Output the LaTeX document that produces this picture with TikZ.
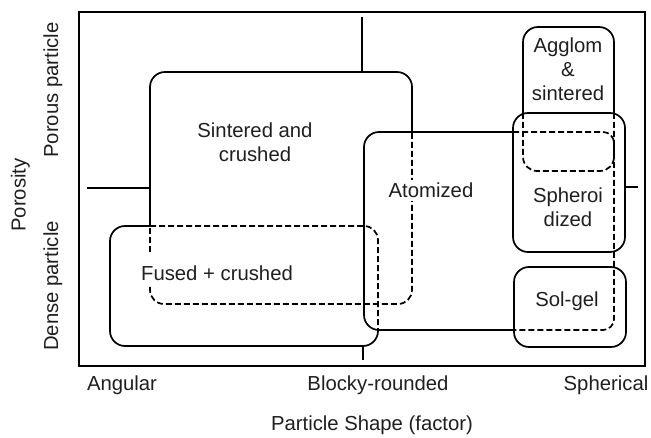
\documentclass[tikz,border=0pt]{standalone}
\usepackage{fontspec}
\setmainfont{Liberation Sans}
\begin{document}
\begin{tikzpicture}[x=1pt,y=-1pt,
  frame/.style={line width=2.4pt},
  solidedge/.style={line width=1.7pt, rounded corners=15pt},
  dashedge/.style={line width=1.7pt, rounded corners=14pt, dash pattern=on 6pt off 3pt},
  axisline/.style={line width=1.4pt},
  lbl/.style={font=\fontsize{20.3}{24}\selectfont, text=black!88, inner sep=0pt, align=center},
]
\useasboundingbox (0,0) rectangle (651,438);
% frame
\draw[frame] (79,12) rectangle (645,366);
% named coordinates
\coordinate (vtop) at (362,17);
\coordinate (vbot) at (363,360);
\coordinate (hl) at (87,188);
\coordinate (hr) at (638,187);
% cross lines
\draw[axisline] (vtop) -- (362,72);
\draw[axisline] (363,346) -- (vbot);
\draw[axisline] (hl) -- (150,188);
\draw[axisline] (625,187) -- (hr);
% Sintered and crushed box
\draw[solidedge] (150,226) -- (150,72) -- (412,72) -- (412,133);
\draw[dashedge] (412,133) -- (412,304) -- (150,304) -- (150,287);
\draw[dashedge] (150,252) -- (150,226);
% Fused + crushed box
\draw[solidedge] (150,226) -- (110,226) -- (110,346) -- (378,346) -- (378,330);
\draw[dashedge] (150,226) -- (378,226) -- (378,330);
% Atomized box
\draw[solidedge] (513,132) -- (364,132) -- (364,330) -- (514,330);
\draw[dashedge, rounded corners=11pt] (513,132) -- (614,132) -- (614,330) -- (514,330);
% Agglom & sintered box
\draw[solidedge] (523,113) -- (523,27) -- (614,27) -- (614,113);
\draw[dashedge] (614,113) -- (614,171) -- (523,171) -- (523,113);
% Spheroidized box
\draw[solidedge] (513,113) rectangle (625,252);
% Sol-gel box
\draw[solidedge] (514,267) rectangle (626,347);
% labels in boxes
\node[lbl] (sc) at (255,142) {Sintered and\\crushed};
\node[lbl, anchor=base, fill=white, inner sep=3pt] (at) at (431,198) {Atomized};
\node[lbl, anchor=base] (fc) at (217,281) {Fused + crushed};
\node[lbl] (ag) at (568,69) {Agglom\\\&\\sintered};
\node[lbl] (sp) at (568,207) {Spheroi\\dized};
\node[lbl, anchor=base] (sg) at (567,307) {Sol-gel};
% axis labels
\node[lbl, anchor=base] (ang) at (122,391) {Angular};
\node[lbl, anchor=base] (blk) at (378,391) {Blocky-rounded};
\node[lbl, anchor=base] (sph) at (606,391) {Spherical};
\node[lbl, anchor=base] (psf) at (372,430) {Particle Shape (factor)};
\node[lbl, anchor=base, rotate=90] (por) at (25.5,195) {Porosity};
\node[lbl, anchor=base, rotate=90] (pp) at (58,90) {Porous particle};
\node[lbl, anchor=base, rotate=90] (dp) at (58,286) {Dense particle};
\end{tikzpicture}
\end{document}
